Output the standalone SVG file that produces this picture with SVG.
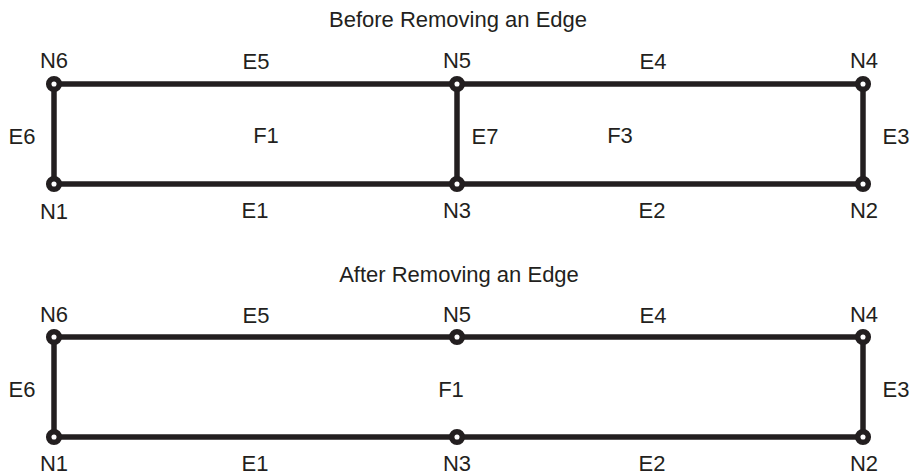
<svg xmlns="http://www.w3.org/2000/svg" width="912" height="476" viewBox="0 0 912 476">
<style>
text{font-family:"Liberation Sans",Arial,sans-serif;font-size:22px;fill:#231f20;text-anchor:middle}
.e{stroke:#231f20;stroke-width:5.5;fill:none;stroke-linecap:butt}
.n{fill:#fff;stroke:#231f20;stroke-width:5.5}
</style>
<rect width="912" height="476" fill="#fff"/>
<text x="458" y="27">Before Removing an Edge</text>
<text x="459" y="282">After Removing an Edge</text>
<g id="connectors">
<line class="e" x1="54" y1="84" x2="863" y2="84"/>
<line class="e" x1="54" y1="184" x2="863" y2="184"/>
<line class="e" x1="54" y1="84" x2="54" y2="184"/>
<line class="e" x1="457" y1="84" x2="457" y2="184"/>
<line class="e" x1="863" y1="84" x2="863" y2="184"/>
<line class="e" x1="54" y1="337" x2="863" y2="337"/>
<line class="e" x1="54" y1="437" x2="863" y2="437"/>
<line class="e" x1="54" y1="337" x2="54" y2="437"/>
<line class="e" x1="863" y1="337" x2="863" y2="437"/>
</g>
<g id="edge-labels">
<text x="256" y="69">E5</text>
<text x="653" y="69">E4</text>
<text x="22" y="144">E6</text>
<text x="266" y="143">F1</text>
<text x="485" y="144">E7</text>
<text x="620" y="143">F3</text>
<text x="896" y="144">E3</text>
<text x="255" y="218">E1</text>
<text x="652" y="218">E2</text>
<text x="256" y="323">E5</text>
<text x="653" y="323">E4</text>
<text x="22" y="397">E6</text>
<text x="451" y="397">F1</text>
<text x="896" y="397">E3</text>
<text x="255" y="471">E1</text>
<text x="652" y="471">E2</text>
</g>
<g id="top-N6"><circle class="n" cx="54" cy="84" r="5.3"/><text x="54" y="68">N6</text></g>
<g id="top-N5"><circle class="n" cx="457" cy="84" r="5.3"/><text x="457" y="68">N5</text></g>
<g id="top-N4"><circle class="n" cx="863" cy="84" r="5.3"/><text x="864" y="68">N4</text></g>
<g id="top-N1"><circle class="n" cx="54" cy="184" r="5.3"/><text x="54" y="219">N1</text></g>
<g id="top-N3"><circle class="n" cx="457" cy="184" r="5.3"/><text x="457" y="218">N3</text></g>
<g id="top-N2"><circle class="n" cx="863" cy="184" r="5.3"/><text x="864" y="218">N2</text></g>
<g id="bot-N6"><circle class="n" cx="54" cy="337" r="5.3"/><text x="54" y="322">N6</text></g>
<g id="bot-N5"><circle class="n" cx="457" cy="337" r="5.3"/><text x="457" y="322">N5</text></g>
<g id="bot-N4"><circle class="n" cx="863" cy="337" r="5.3"/><text x="864" y="322">N4</text></g>
<g id="bot-N1"><circle class="n" cx="54" cy="437" r="5.3"/><text x="54" y="471">N1</text></g>
<g id="bot-N3"><circle class="n" cx="457" cy="437" r="5.3"/><text x="457" y="471">N3</text></g>
<g id="bot-N2"><circle class="n" cx="863" cy="437" r="5.3"/><text x="864" y="471">N2</text></g>
</svg>
